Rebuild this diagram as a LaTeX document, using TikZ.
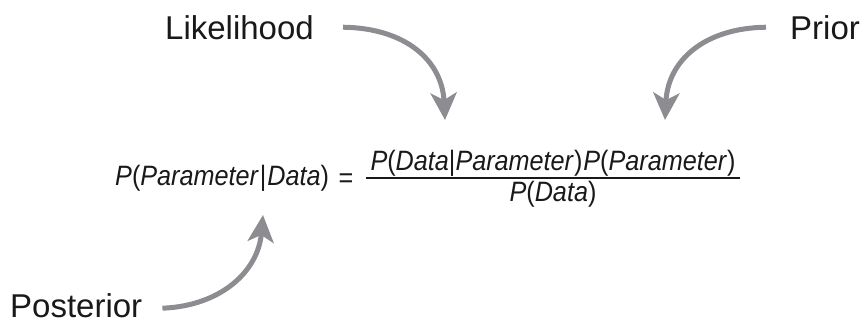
\documentclass[tikz,border=0pt]{standalone}
\usepackage{fontspec}
\setmainfont{Liberation Sans}
\newfontfamily\formfont[FakeStretch=0.9]{Liberation Sans}
\usetikzlibrary{arrows.meta}
\definecolor{arrowgray}{RGB}{140,140,145}
\definecolor{textblack}{RGB}{25,25,25}
\tikzset{
  lbl/.style={font=\fontsize{33}{36}\selectfont, text=textblack, inner sep=0pt, anchor=base west},
  fml/.style={font=\formfont\fontsize{28}{30}\selectfont, text=textblack, inner sep=0pt, anchor=base},
  bigarrow/.style={draw=arrowgray, line width=5pt, -{Stealth[length=27pt,width=26pt,inset=7pt]}},
}
\begin{document}
\begin{tikzpicture}[x=1pt,y=-1pt]
\useasboundingbox (0,0) rectangle (864,325);
% labels
\node[lbl] (lik) at (165,39) {Likelihood};
\node[lbl] (prior) at (790,39) {Prior};
\node[lbl] (post) at (10,317) {Posterior};
% formula
\node[fml, anchor=base west] (lhs) at (115,185) {\textit{P}(\textit{Parameter}\hspace{1pt}|\hspace{1pt}\textit{Data})};
\node[fml] (eq) at (346,187) {=};
\node[fml] (num) at (553,170) {\textit{P}(\textit{Data}|\textit{Parameter})\hspace{1pt}\textit{P}(\textit{Parameter})};
\node[fml] (den) at (553,201) {\textit{P}(\textit{Data})};
\coordinate (fracrow) at (0,178);
\draw[textblack, line width=1.8pt] ([xshift=-4pt]num.west |- fracrow) -- ([xshift=4pt]num.east |- fracrow);
% arrow targets
\coordinate (liktip) at (445,120);
\coordinate (priortip) at (665,120);
\coordinate (posttip) at (263,215);
% arrows
\draw[bigarrow] ([xshift=29pt]lik.east) .. controls (405,28) and (442,60) .. (liktip);
\draw[bigarrow] ([xshift=-24pt]prior.west) .. controls (705,28) and (668,60) .. (priortip);
\draw[bigarrow] ([xshift=20pt,yshift=-3pt]post.east) .. controls (220,306) and (258,272) .. (posttip);
\end{tikzpicture}
\end{document}
